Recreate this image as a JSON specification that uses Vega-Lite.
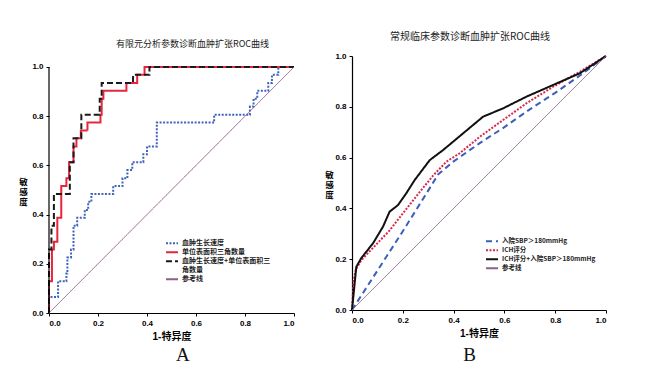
{
  "$schema": "https://vega.github.io/schema/vega-lite/v6.json",
  "background": "white",
  "padding": {"left": 18, "top": 32, "right": 0, "bottom": 0},
  "spacing": 26,
  "resolve": {"scale": {"color": "independent", "strokeDash": "independent"}, "legend": {"color": "independent", "strokeDash": "independent"}},
  "config": {
    "view": {"stroke": null},
    "font": "Liberation Sans, Noto Sans CJK SC",
    "axis": {
      "grid": false, "domainColor": "#000", "domainWidth": 1.2, "tickColor": "#000", "tickSize": 3,
      "labelColor": "#000", "labelFontSize": 8, "labelFontWeight": "bold", "labelPadding": 3,
      "titleColor": "#000", "titleFontSize": 10, "titleFontWeight": "bold"
    },
    "title": {"fontWeight": "normal", "color": "#222", "anchor": "middle", "font": "Noto Sans CJK SC"}
  },
  "hconcat": [
    {
      "width": 245, "height": 257,
      "title": {"text": "有限元分析参数诊断血肿扩张ROC曲线", "fontSize": 9, "dx": 21, "offset": 7.5},
      "layer": [
        {
          "data": {"values": [
            {"x": 0, "y": 0, "s": "血肿生长速度"}, {"x": 0, "y": 0.065, "s": "血肿生长速度"}, {"x": 0.037, "y": 0.129, "s": "血肿生长速度"}, {"x": 0.071, "y": 0.161, "s": "血肿生长速度"}, {"x": 0.075, "y": 0.226, "s": "血肿生长速度"}, {"x": 0.09, "y": 0.258, "s": "血肿生长速度"}, {"x": 0.1, "y": 0.355, "s": "血肿生长速度"}, {"x": 0.115, "y": 0.387, "s": "血肿生长速度"}, {"x": 0.146, "y": 0.419, "s": "血肿生长速度"}, {"x": 0.16, "y": 0.452, "s": "血肿生长速度"}, {"x": 0.173, "y": 0.484, "s": "血肿生长速度"}, {"x": 0.262, "y": 0.516, "s": "血肿生长速度"}, {"x": 0.3, "y": 0.548, "s": "血肿生长速度"}, {"x": 0.32, "y": 0.581, "s": "血肿生长速度"}, {"x": 0.34, "y": 0.613, "s": "血肿生长速度"}, {"x": 0.385, "y": 0.645, "s": "血肿生长速度"}, {"x": 0.4, "y": 0.677, "s": "血肿生长速度"}, {"x": 0.44, "y": 0.774, "s": "血肿生长速度"}, {"x": 0.674, "y": 0.806, "s": "血肿生长速度"}, {"x": 0.82, "y": 0.839, "s": "血肿生长速度"}, {"x": 0.835, "y": 0.871, "s": "血肿生长速度"}, {"x": 0.85, "y": 0.903, "s": "血肿生长速度"}, {"x": 0.895, "y": 0.935, "s": "血肿生长速度"}, {"x": 0.91, "y": 0.968, "s": "血肿生长速度"}, {"x": 0.936, "y": 1.0, "s": "血肿生长速度"}, {"x": 1, "y": 1, "s": "血肿生长速度"},
            {"x": 0, "y": 0, "s": "单位表面积三角数量"}, {"x": 0, "y": 0.129, "s": "单位表面积三角数量"}, {"x": 0.012, "y": 0.258, "s": "单位表面积三角数量"}, {"x": 0.02, "y": 0.29, "s": "单位表面积三角数量"}, {"x": 0.034, "y": 0.387, "s": "单位表面积三角数量"}, {"x": 0.05, "y": 0.516, "s": "单位表面积三角数量"}, {"x": 0.071, "y": 0.548, "s": "单位表面积三角数量"}, {"x": 0.082, "y": 0.613, "s": "单位表面积三角数量"}, {"x": 0.1, "y": 0.677, "s": "单位表面积三角数量"}, {"x": 0.112, "y": 0.71, "s": "单位表面积三角数量"}, {"x": 0.13, "y": 0.742, "s": "单位表面积三角数量"}, {"x": 0.157, "y": 0.774, "s": "单位表面积三角数量"}, {"x": 0.21, "y": 0.806, "s": "单位表面积三角数量"}, {"x": 0.215, "y": 0.871, "s": "单位表面积三角数量"}, {"x": 0.222, "y": 0.903, "s": "单位表面积三角数量"}, {"x": 0.316, "y": 0.935, "s": "单位表面积三角数量"}, {"x": 0.36, "y": 0.968, "s": "单位表面积三角数量"}, {"x": 0.39, "y": 1.0, "s": "单位表面积三角数量"}, {"x": 1, "y": 1, "s": "单位表面积三角数量"},
            {"x": 0, "y": 0, "s": "血肿生长速度+单位表面积三角数量"}, {"x": 0, "y": 0.258, "s": "血肿生长速度+单位表面积三角数量"}, {"x": 0.01, "y": 0.355, "s": "血肿生长速度+单位表面积三角数量"}, {"x": 0.02, "y": 0.484, "s": "血肿生长速度+单位表面积三角数量"}, {"x": 0.085, "y": 0.613, "s": "血肿生长速度+单位表面积三角数量"}, {"x": 0.1, "y": 0.71, "s": "血肿生长速度+单位表面积三角数量"}, {"x": 0.132, "y": 0.806, "s": "血肿生长速度+单位表面积三角数量"}, {"x": 0.207, "y": 0.871, "s": "血肿生长速度+单位表面积三角数量"}, {"x": 0.215, "y": 0.935, "s": "血肿生长速度+单位表面积三角数量"}, {"x": 0.343, "y": 0.968, "s": "血肿生长速度+单位表面积三角数量"}, {"x": 0.41, "y": 1.0, "s": "血肿生长速度+单位表面积三角数量"}, {"x": 1, "y": 1, "s": "血肿生长速度+单位表面积三角数量"}
          ]},
          "mark": {"type": "line", "interpolate": "step-after", "strokeWidth": 2},
          "encoding": {
            "x": {"field": "x", "type": "quantitative", "scale": {"domain": [0, 1], "nice": false}, "axis": {"values": [0, 0.2, 0.4, 0.6, 0.8, 1], "format": ".1f", "title": "1-特异度", "titlePadding": 4}},
            "y": {"field": "y", "type": "quantitative", "scale": {"domain": [0, 1.0447], "nice": false}, "axis": {"domain": false, "values": [0, 0.2, 0.4, 0.6, 0.8, 1], "format": ".1f", "title": ["敏", "感", "度"], "titleFont": "Noto Sans CJK SC", "titleAngle": 0, "titleX": -26, "titleY": 121, "titleAlign": "center", "titleBaseline": "top", "titleFontSize": 8.5, "titleLineHeight": 10}},
            "order": [{"field": "x"}, {"field": "y"}],
            "color": {"field": "s", "type": "nominal", "scale": {"domain": ["血肿生长速度", "单位表面积三角数量", "血肿生长速度+单位表面积三角数量", "角数量", "参考线"], "range": ["#3f63bd", "#e8253d", "#1a1a1a", "rgba(0,0,0,0)", "#8f5f8c"]},
              "legend": {"orient": "none", "legendX": 116, "legendY": 183, "title": null, "symbolType": "stroke", "symbolSize": 144, "symbolStrokeWidth": 2, "labelFontSize": 7, "labelFontWeight": "bold", "labelFont": "Noto Sans CJK SC", "labelColor": "#222", "rowPadding": 0, "clipHeight": 8.5, "labelOffset": 3, "labelLimit": 200,
                "labelExpr": "datum.label == '血肿生长速度+单位表面积三角数量' ? '血肿生长速度+单位表面积三' : datum.label"}},
            "strokeDash": {"field": "s", "type": "nominal", "scale": {"domain": ["血肿生长速度", "单位表面积三角数量", "血肿生长速度+单位表面积三角数量", "角数量", "参考线"], "range": [[2, 1.5], [1, 0], [6, 3], [1, 0], [1, 0]]}}
          }
        },
        {
          "data": {"values": [{"x": 0, "y": 0, "s": "参考线"}, {"x": 1, "y": 1, "s": "参考线"}]},
          "mark": {"type": "line", "strokeWidth": 1},
          "encoding": {
            "x": {"field": "x", "type": "quantitative"},
            "y": {"field": "y", "type": "quantitative"},
            "color": {"field": "s", "type": "nominal"},
            "strokeDash": {"field": "s", "type": "nominal"}
          }
        },
        {
          "data": {"values": [{"label": "y-axis"}]},
          "mark": {"type": "rule", "color": "#000", "strokeWidth": 1.2},
          "encoding": {"x": {"datum": 0}, "y": {"datum": 0}, "y2": {"datum": 1}}
        },
        {
          "data": {"values": [{"label": "A"}]},
          "mark": {"type": "text", "fontSize": 19, "font": "Liberation Serif", "color": "#111", "baseline": "middle", "align": "center"},
          "encoding": {"x": {"datum": 0.546}, "y": {"datum": -0.171}, "text": {"field": "label"}}
        }
      ]
    },
    {
      "width": 254, "height": 254,
      "title": {"text": "常规临床参数诊断血肿扩张ROC曲线", "fontSize": 10, "dx": -9, "offset": 10},
      "layer": [
        {
          "data": {"values": [
            {"x": 0, "y": 0, "s": "入院SBP＞180mmHg"}, {"x": 0.1, "y": 0.155, "s": "入院SBP＞180mmHg"}, {"x": 0.2, "y": 0.31, "s": "入院SBP＞180mmHg"}, {"x": 0.3, "y": 0.47, "s": "入院SBP＞180mmHg"}, {"x": 0.34, "y": 0.535, "s": "入院SBP＞180mmHg"}, {"x": 0.4, "y": 0.585, "s": "入院SBP＞180mmHg"}, {"x": 0.5, "y": 0.655, "s": "入院SBP＞180mmHg"}, {"x": 0.6, "y": 0.72, "s": "入院SBP＞180mmHg"}, {"x": 0.7, "y": 0.79, "s": "入院SBP＞180mmHg"}, {"x": 0.8, "y": 0.855, "s": "入院SBP＞180mmHg"}, {"x": 0.9, "y": 0.925, "s": "入院SBP＞180mmHg"}, {"x": 1, "y": 1, "s": "入院SBP＞180mmHg"},
            {"x": 0, "y": 0, "s": "ICH评分"}, {"x": 0.006, "y": 0.112, "s": "ICH评分"}, {"x": 0.015, "y": 0.16, "s": "ICH评分"}, {"x": 0.037, "y": 0.197, "s": "ICH评分"}, {"x": 0.083, "y": 0.245, "s": "ICH评分"}, {"x": 0.148, "y": 0.313, "s": "ICH评分"}, {"x": 0.2, "y": 0.38, "s": "ICH评分"}, {"x": 0.267, "y": 0.465, "s": "ICH评分"}, {"x": 0.32, "y": 0.53, "s": "ICH评分"}, {"x": 0.372, "y": 0.584, "s": "ICH评分"}, {"x": 0.424, "y": 0.617, "s": "ICH评分"}, {"x": 0.503, "y": 0.682, "s": "ICH评分"}, {"x": 0.595, "y": 0.748, "s": "ICH评分"}, {"x": 0.687, "y": 0.814, "s": "ICH评分"}, {"x": 0.792, "y": 0.879, "s": "ICH评分"}, {"x": 0.897, "y": 0.938, "s": "ICH评分"}, {"x": 1, "y": 1, "s": "ICH评分"},
            {"x": 0, "y": 0, "s": "ICH评分+入院SBP＞180mmHg"}, {"x": 0.01, "y": 0.1, "s": "ICH评分+入院SBP＞180mmHg"}, {"x": 0.017, "y": 0.17, "s": "ICH评分+入院SBP＞180mmHg"}, {"x": 0.037, "y": 0.205, "s": "ICH评分+入院SBP＞180mmHg"}, {"x": 0.083, "y": 0.263, "s": "ICH评分+入院SBP＞180mmHg"}, {"x": 0.122, "y": 0.328, "s": "ICH评分+入院SBP＞180mmHg"}, {"x": 0.148, "y": 0.387, "s": "ICH评分+入院SBP＞180mmHg"}, {"x": 0.181, "y": 0.413, "s": "ICH评分+入院SBP＞180mmHg"}, {"x": 0.214, "y": 0.46, "s": "ICH评分+入院SBP＞180mmHg"}, {"x": 0.247, "y": 0.512, "s": "ICH评分+入院SBP＞180mmHg"}, {"x": 0.306, "y": 0.59, "s": "ICH评分+入院SBP＞180mmHg"}, {"x": 0.359, "y": 0.63, "s": "ICH评分+入院SBP＞180mmHg"}, {"x": 0.438, "y": 0.696, "s": "ICH评分+入院SBP＞180mmHg"}, {"x": 0.516, "y": 0.761, "s": "ICH评分+入院SBP＞180mmHg"}, {"x": 0.595, "y": 0.794, "s": "ICH评分+入院SBP＞180mmHg"}, {"x": 0.687, "y": 0.84, "s": "ICH评分+入院SBP＞180mmHg"}, {"x": 0.792, "y": 0.886, "s": "ICH评分+入院SBP＞180mmHg"}, {"x": 0.897, "y": 0.932, "s": "ICH评分+入院SBP＞180mmHg"}, {"x": 1, "y": 1, "s": "ICH评分+入院SBP＞180mmHg"}
          ]},
          "mark": {"type": "line", "strokeWidth": 2},
          "encoding": {
            "x": {"field": "x", "type": "quantitative", "scale": {"domain": [0, 1], "nice": false}, "axis": {"values": [0, 0.2, 0.4, 0.6, 0.8, 1], "format": ".1f", "title": "1-特异度", "titlePadding": 4}},
            "y": {"field": "y", "type": "quantitative", "scale": {"domain": [0, 1], "nice": false}, "axis": {"values": [0, 0.2, 0.4, 0.6, 0.8, 1], "format": ".1f", "title": ["敏", "感", "度"], "titleFont": "Noto Sans CJK SC", "titleAngle": 0, "titleX": -23, "titleY": 114, "titleAlign": "center", "titleBaseline": "top", "titleFontSize": 8.5, "titleLineHeight": 10}},
            "order": [{"field": "x"}, {"field": "y"}],
            "color": {"field": "s", "type": "nominal", "scale": {"domain": ["入院SBP＞180mmHg", "ICH评分", "ICH评分+入院SBP＞180mmHg", "参考线"], "range": ["#3b5fbf", "#d8284a", "#111111", "#8f5f8c"]},
              "legend": {"orient": "none", "legendX": 133, "legendY": 181, "title": null, "symbolType": "stroke", "symbolSize": 144, "symbolStrokeWidth": 2, "labelFontSize": 6.5, "labelFontWeight": "bold", "labelFont": "Noto Sans CJK SC", "labelColor": "#222", "rowPadding": 0, "clipHeight": 8.5, "labelOffset": 3, "labelLimit": 200}},
            "strokeDash": {"field": "s", "type": "nominal", "scale": {"domain": ["入院SBP＞180mmHg", "ICH评分", "ICH评分+入院SBP＞180mmHg", "参考线"], "range": [[6, 4], [2, 1.5], [1, 0], [1, 0]]}}
          }
        },
        {
          "data": {"values": [{"x": 0, "y": 0, "s": "参考线"}, {"x": 1, "y": 1, "s": "参考线"}]},
          "mark": {"type": "line", "strokeWidth": 1},
          "encoding": {
            "x": {"field": "x", "type": "quantitative"},
            "y": {"field": "y", "type": "quantitative"},
            "color": {"field": "s", "type": "nominal"},
            "strokeDash": {"field": "s", "type": "nominal"}
          }
        },
        {
          "data": {"values": [{"label": "B"}]},
          "mark": {"type": "text", "fontSize": 19, "font": "Liberation Serif", "color": "#111", "baseline": "middle", "align": "center"},
          "encoding": {"x": {"datum": 0.463}, "y": {"datum": -0.177}, "text": {"field": "label"}}
        }
      ]
    }
  ]
}
